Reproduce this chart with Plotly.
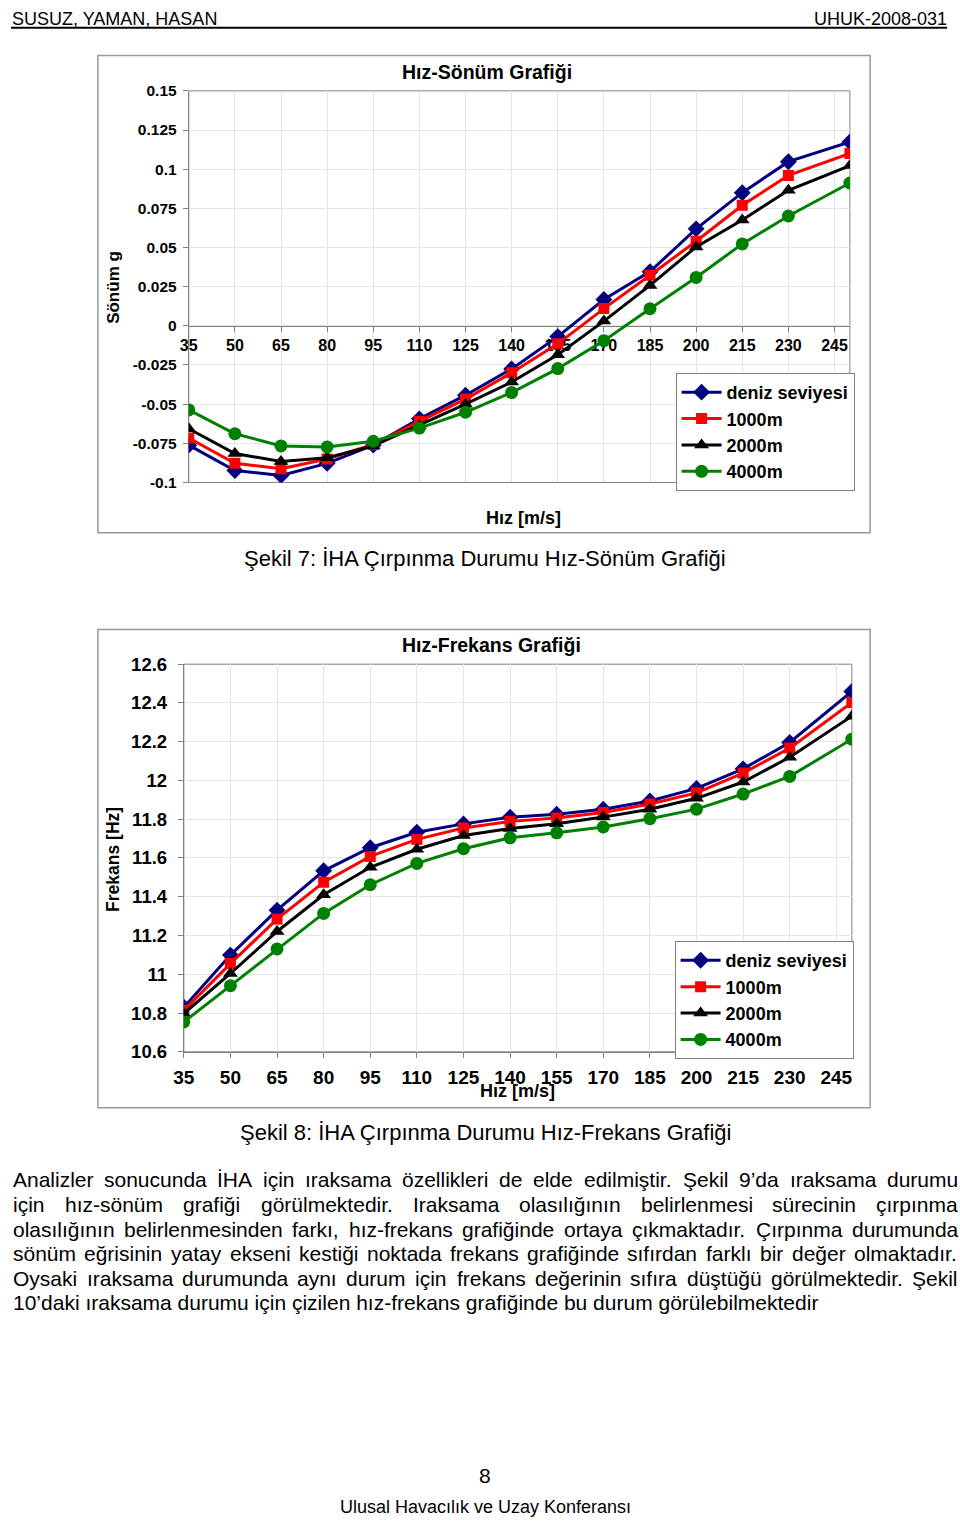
import plotly.graph_objects as go

W, H = 960, 1528

# ---------------- data ----------------
series_names = ["deniz seviyesi", "1000m", "2000m", "4000m"]
series_colors = ["#000080", "#FF0000", "#000000", "#008000"]
series_symbols = ["diamond", "square", "triangle-up", "circle"]
series_sizes = [13, 11, 13, 13]

speed = [35, 50, 65, 80, 95, 110, 125, 140, 155, 170, 185, 200, 215, 230, 250]
speed_ticks = [35, 50, 65, 80, 95, 110, 125, 140, 155, 170, 185, 200, 215, 230, 245]

# Hız-Sönüm (damping g)
damp_sea = [-0.0762, -0.0924, -0.0955, -0.0878, -0.0762, -0.0594, -0.0443, -0.0275, -0.0069, 0.0168, 0.0346, 0.0619, 0.0850, 0.1048, 0.1174]
damp_1000 = [-0.0716, -0.0878, -0.0913, -0.0850, -0.0758, -0.0610, -0.0468, -0.0300, -0.0115, 0.0110, 0.0323, 0.0540, 0.0770, 0.0960, 0.1100]
damp_2000 = [-0.0657, -0.0815, -0.0867, -0.0842, -0.0767, -0.0636, -0.0500, -0.0359, -0.0185, 0.0030, 0.0258, 0.0504, 0.0676, 0.0865, 0.1023]
damp_4000 = [-0.0537, -0.0689, -0.0767, -0.0773, -0.0737, -0.0653, -0.0552, -0.0426, -0.0273, -0.0095, 0.0109, 0.0309, 0.0523, 0.0701, 0.0912]
damp_tickvals = [-0.1, -0.075, -0.05, -0.025, 0, 0.025, 0.05, 0.075, 0.1, 0.125, 0.15]
damp_ticktext = ["-0.1", "-0.075", "-0.05", "-0.025", "0", "0.025", "0.05", "0.075", "0.1", "0.125", "0.15"]

# Hız-Frekans (Hz)
freq_sea = [10.830, 11.099, 11.331, 11.534, 11.653, 11.733, 11.776, 11.810, 11.826, 11.852, 11.894, 11.959, 12.060, 12.196, 12.459]
freq_1000 = [10.814, 11.055, 11.285, 11.475, 11.608, 11.696, 11.755, 11.789, 11.806, 11.835, 11.879, 11.936, 12.038, 12.167, 12.403]
freq_2000 = [10.797, 11.004, 11.221, 11.410, 11.552, 11.645, 11.716, 11.752, 11.777, 11.811, 11.852, 11.908, 11.992, 12.120, 12.332]
freq_4000 = [10.754, 10.941, 11.131, 11.314, 11.462, 11.572, 11.648, 11.704, 11.730, 11.760, 11.803, 11.852, 11.930, 12.021, 12.213]
freq_tickvals = [10.6, 10.8, 11.0, 11.2, 11.4, 11.6, 11.8, 12.0, 12.2, 12.4, 12.6]
freq_ticktext = ["10.6", "10.8", "11", "11.2", "11.4", "11.6", "11.8", "12", "12.2", "12.4", "12.6"]

paragraph = [
    "Analizler sonucunda İHA için ıraksama özellikleri de elde edilmiştir. Şekil 9’da ıraksama durumu",
    "için hız-sönüm grafiği görülmektedir. Iraksama olasılığının belirlenmesi sürecinin çırpınma",
    "olasılığının belirlenmesinden farkı, hız-frekans grafiğinde ortaya çıkmaktadır. Çırpınma durumunda",
    "sönüm eğrisinin yatay ekseni kestiği noktada frekans grafiğinde sıfırdan farklı bir değer olmaktadır.",
    "Oysaki ıraksama durumunda aynı durum için frekans değerinin sıfıra düştüğü görülmektedir. Şekil",
    "10’daki ıraksama durumu için çizilen hız-frekans grafiğinde bu durum görülebilmektedir",
]

FONT = "Liberation Sans, Arial, sans-serif"
NARROW = "Liberation Sans Narrow, Arial Narrow, Liberation Sans, sans-serif"

# Arial / Liberation Sans advance widths (1/1000 em) used to justify the paragraph
_AW = {" ": 278, "a": 556, "b": 556, "c": 500, "d": 556, "e": 556, "f": 278, "g": 556,
       "h": 556, "i": 222, "j": 222, "k": 500, "l": 222, "m": 833, "n": 556, "o": 556,
       "p": 556, "q": 556, "r": 333, "s": 500, "t": 278, "u": 556, "v": 500, "w": 722,
       "x": 500, "y": 500, "z": 500, "ı": 278, "ş": 500, "ç": 500, "ğ": 556, "ö": 556,
       "ü": 556, "İ": 278, "I": 278, "Ş": 667, "Ç": 722, "A": 667, "H": 722, "O": 778,
       ".": 278, ",": 278, "-": 333, "’": 222, ":": 278}


def text_width(s, size):
    return sum(_AW.get(ch, 556) for ch in s) * size / 1000.0


def X(px):
    return px / W


def Y(py):
    return 1 - py / H


fig = go.Figure()

damp_series = [damp_sea, damp_1000, damp_2000, damp_4000]
freq_series = [freq_sea, freq_1000, freq_2000, freq_4000]

for i, name in enumerate(series_names):
    fig.add_trace(go.Scatter(
        x=speed, y=damp_series[i], name=name, mode="lines+markers",
        xaxis="x", yaxis="y", legend="legend", legendgroup="a%d" % i,
        line=dict(color=series_colors[i], width=3),
        marker=dict(symbol=series_symbols[i], size=series_sizes[i], color=series_colors[i]),
    ))
for i, name in enumerate(series_names):
    fig.add_trace(go.Scatter(
        x=speed, y=freq_series[i], name=name, mode="lines+markers",
        xaxis="x2", yaxis="y2", legend="legend2", legendgroup="b%d" % i,
        line=dict(color=series_colors[i], width=3),
        marker=dict(symbol=series_symbols[i], size=series_sizes[i], color=series_colors[i]),
    ))

# geometry (pixels)
c1 = dict(l=180, r=849.5, t=81, b=478)
c2 = dict(l=175, r=851.5, t=662.3, b=1055.3)

grid = "#e4e4e4"
axc = "#808080"

fig.update_layout(
    width=W, height=H,
    margin=dict(l=0, r=0, t=0, b=0),
    paper_bgcolor="white", plot_bgcolor="white",
    font=dict(family=FONT, color="black"),
    showlegend=True,
    xaxis=dict(
        domain=[X(c1["l"]), X(c1["r"])], range=[35, 250],
        tickvals=speed_ticks, ticktext=[str(v) for v in speed_ticks],
        anchor="free", position=Y(319),
        showgrid=True, gridcolor=grid, zeroline=False,
        showline=True, linecolor=axc, linewidth=1,
        ticks="outside", ticklen=5, tickcolor=axc,
        tickfont=dict(size=16, family=FONT, weight="bold"),
        ticklabelstandoff=0,
        layer="below traces",
    ),
    yaxis=dict(
        domain=[Y(c1["b"]), Y(c1["t"])], range=[-0.1, 0.15],
        tickvals=damp_tickvals, ticktext=damp_ticktext,
        anchor="x", showgrid=True, gridcolor=grid, zeroline=False,
        showline=True, linecolor=axc, linewidth=1,
        ticks="outside", ticklen=5, tickcolor=axc,
        tickfont=dict(size=15.5, family=FONT, weight="bold"),
        ticklabelstandoff=3,
        layer="below traces",
    ),
    xaxis2=dict(
        domain=[X(c2["l"]), X(c2["r"])], range=[35, 250],
        tickvals=speed_ticks, ticktext=[str(v) for v in speed_ticks],
        anchor="y2", showgrid=True, gridcolor=grid, zeroline=False,
        showline=True, linecolor=axc, linewidth=1,
        ticks="outside", ticklen=5, tickcolor=axc,
        tickfont=dict(size=19, family=FONT, weight="bold"),
        ticklabelstandoff=3,
        layer="below traces",
    ),
    yaxis2=dict(
        domain=[Y(c2["b"]), Y(c2["t"])], range=[10.6, 12.6],
        tickvals=freq_tickvals, ticktext=freq_ticktext,
        anchor="x2", showgrid=True, gridcolor=grid, zeroline=False,
        showline=True, linecolor=axc, linewidth=1,
        ticks="outside", ticklen=5, tickcolor=axc,
        tickfont=dict(size=18.5, family=FONT, weight="bold"),
        ticklabelstandoff=7,
        layer="below traces",
    ),
    legend=dict(
        x=X(673), y=Y(367), xanchor="left", yanchor="top",
        bgcolor="white", bordercolor=axc, borderwidth=1,
        font=dict(size=18, family=FONT, weight="bold"),
        tracegroupgap=0, itemwidth=40,
    ),
    legend2=dict(
        x=X(672), y=Y(943), xanchor="left", yanchor="top",
        bgcolor="white", bordercolor=axc, borderwidth=1,
        font=dict(size=18, family=FONT, weight="bold"),
        tracegroupgap=0, itemwidth=40,
    ),
)

shapes = []
# outer chart boxes
for (l, t, r, b) in [(88, 45, 870, 529), (88, 627, 870, 1112)]:
    shapes.append(dict(type="rect", xref="paper", yref="paper",
                       x0=X(l), x1=X(r), y0=Y(b), y1=Y(t),
                       line=dict(color="#9a9a9a", width=1.5), layer="below"))
# plot area borders
for c in (c1, c2):
    shapes.append(dict(type="rect", xref="paper", yref="paper",
                       x0=X(c["l"]), x1=X(c["r"]), y0=Y(c["b"]), y1=Y(c["t"]),
                       line=dict(color=axc, width=1), layer="below"))
# header rule
shapes.append(dict(type="line", xref="paper", yref="paper",
                   x0=X(0), x1=X(948), y0=Y(17), y1=Y(17),
                   line=dict(color="black", width=2)))
fig.update_layout(shapes=shapes)

ann = []


def text(px, py, s, size, xanchor="center", bold=False, family=FONT, angle=0):
    ann.append(dict(xref="paper", yref="paper", x=X(px), y=Y(py), text=s,
                    showarrow=False, xanchor=xanchor, yanchor="middle",
                    textangle=angle, borderpad=0, borderwidth=0,
                    font=dict(size=size, family=family, color="black",
                              weight="bold" if bold else "normal")))


# header
text(1, 8, "SUSUZ, YAMAN, HASAN", 18, xanchor="left", family=NARROW)
text(948, 8, "UHUK-2008-031", 18, xanchor="right", family=NARROW)

# chart 1 texts
text(482, 62, "Hız-Sönüm Grafiği", 19.5, bold=True)
text(103, 280, "Sönüm g", 17, bold=True, angle=-90)
text(519, 514, "Hız [m/s]", 18, bold=True)
text(480, 555, "Şekil 7: İHA Çırpınma Durumu Hız-Sönüm Grafiği", 22)

# chart 2 texts
text(487, 643, "Hız-Frekans Grafiği", 19.5, bold=True)
text(103, 860, "Frekans [Hz]", 17.5, bold=True, angle=-90)
text(513, 1095, "Hız [m/s]", 18, bold=True)
text(480, 1137, "Şekil 8: İHA Çırpınma Durumu Hız-Frekans Grafiği", 22)

# paragraph (justified lines, last line left-aligned)
PFS = 21
left, right = 2, 958
for k, line in enumerate(paragraph):
    py = 1185 + 25 * k
    if k == len(paragraph) - 1:
        text(left, py, line, PFS, xanchor="left")
        continue
    words = line.split(" ")
    widths = [text_width(w_, PFS) for w_ in words]
    gap = (right - left - sum(widths)) / (len(words) - 1)
    xpos = left
    for w_, wd in zip(words, widths):
        text(xpos, py, w_, PFS, xanchor="left")
        xpos += wd + gap

# footer
text(480, 1485, "8", 21)
text(480, 1517, "Ulusal Havacılık ve Uzay Konferansı", 18)

fig.update_layout(annotations=ann)

post = (
    "var st=document.createElement('style');"
    "st.innerHTML='html,body{margin:0!important;padding:0!important;overflow:hidden;}';"
    "document.head.appendChild(st);"
    "var gd=document.getElementById('{plot_id}');"
    "gd.style.position='absolute';gd.style.left='0px';gd.style.top='0px';"
)

fig.write_html("out.html", config={"displayModeBar": False}, post_script=post)
